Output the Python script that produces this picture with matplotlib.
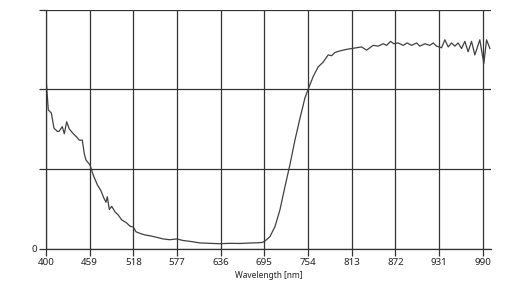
import matplotlib
matplotlib.use("Agg")
import matplotlib.pyplot as plt

# wavelength [nm] and signal (arbitrary units, grid step = 1)
wavelength = [400.0, 403.1, 407.2, 410.8, 415.3, 417.6, 422.0, 424.7, 427.9, 431.5,
              436.9, 441.4, 445.0, 449.0, 451.7, 454.0, 459.4, 463.9, 469.3, 473.9,
              478.3, 481.0, 482.8, 485.5, 488.7, 493.2, 497.6, 502.2, 509.0, 513.4,
              517.9, 521.5, 526.9, 533.7, 540.4, 549.5, 558.4, 567.4, 576.5, 585.4,
              594.4, 607.9, 621.4, 634.9, 648.4, 661.9, 675.4, 686.2, 692.0, 695.7,
              702.4, 709.2, 715.9, 722.7, 729.4, 736.2, 742.9, 749.7, 754.1, 760.9,
              767.6, 774.4, 781.1, 785.7, 790.2, 796.9, 806.0, 812.7, 819.5, 826.2,
              833.0, 841.9, 848.6, 855.4, 860.0, 865.4, 869.8, 875.6, 882.4, 887.8,
              893.7, 900.5, 904.9, 911.7, 918.4, 922.9, 927.5, 934.2, 938.7, 943.2,
              947.7, 952.2, 956.6, 961.2, 965.7, 970.1, 974.7, 979.2, 985.9, 991.3,
              995.0, 999.5]
signal = [2.14, 1.74, 1.70, 1.51, 1.47, 1.47, 1.53, 1.44, 1.59, 1.50,
          1.44, 1.40, 1.36, 1.36, 1.19, 1.11, 1.05, 0.92, 0.80, 0.73,
          0.63, 0.58, 0.65, 0.49, 0.53, 0.46, 0.42, 0.36, 0.32, 0.28,
          0.27, 0.21, 0.19, 0.17, 0.16, 0.14, 0.12, 0.11, 0.12, 0.10,
          0.09, 0.07, 0.065, 0.06, 0.065, 0.063, 0.069, 0.072, 0.076, 0.094,
          0.148, 0.274, 0.483, 0.775, 1.05, 1.36, 1.63, 1.89, 2.00, 2.16,
          2.28, 2.34, 2.43, 2.42, 2.46, 2.48, 2.50, 2.51, 2.52, 2.53,
          2.49, 2.55, 2.54, 2.57, 2.55, 2.60, 2.57, 2.58, 2.55, 2.58,
          2.55, 2.58, 2.54, 2.57, 2.55, 2.58, 2.54, 2.52, 2.62, 2.53,
          2.58, 2.54, 2.58, 2.51, 2.60, 2.47, 2.60, 2.43, 2.62, 2.32,
          2.62, 2.51]
x_ticks = [400, 459, 518, 577, 636, 695, 754, 813, 872, 931, 990]
y_ticks = [0, 1, 2, 3]
y_tick_labels = ["0", "", "", ""]

plt.rcParams["font.family"] = ["Noto Sans", "DejaVu Sans"]

fig = plt.figure(figsize=(5.12, 2.89), dpi=100)
ax = fig.add_axes([46 / 512, 1 - 248.5 / 289, 445 / 512, 239 / 289])

ax.plot(wavelength, signal, color="#404040", lw=0.9)

ax.set_xlim(400, 1001)
ax.set_ylim(0, 3)
ax.set_xticks(x_ticks)
ax.set_yticks(y_ticks)
ax.set_yticklabels(y_tick_labels)
ax.grid(True, color="#333333", lw=0.9)
ax.tick_params(length=5, width=0.9, color="#333333", labelsize=7, pad=1.5,
               labelcolor="#222222")

for side in ["top", "right"]:
    ax.spines[side].set_visible(False)
for side in ["left", "bottom"]:
    ax.spines[side].set_color("#333333")
    ax.spines[side].set_linewidth(0.9)

ax.set_xlabel("Wavelength [nm]", fontsize=6, color="#222222", labelpad=3)

fig.savefig("out.png", dpi=100)
